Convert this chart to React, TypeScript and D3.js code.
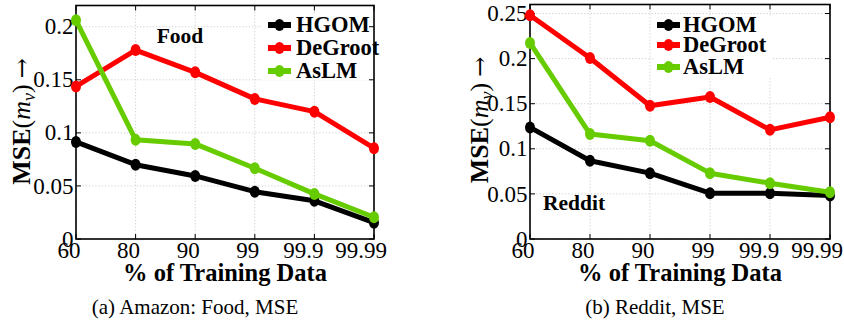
import React from "react";
import * as d3 from "d3";

const categories = ["60", "80", "90", "99", "99.9", "99.99"];
const seriesNames = ["HGOM", "DeGroot", "AsLM"];
const seriesColors = ["#000000", "#ff0000", "#66cc00"];

const foodHGOM = [0.0915, 0.07, 0.0594, 0.0446, 0.036, 0.0154];
const foodDeGroot = [0.1437, 0.178, 0.157, 0.132, 0.12, 0.0856];
const foodAsLM = [0.206, 0.0934, 0.0896, 0.0667, 0.0425, 0.0205];

const redditHGOM = [0.1237, 0.0867, 0.073, 0.0508, 0.0508, 0.0481];
const redditDeGroot = [0.248, 0.2007, 0.1478, 0.1574, 0.121, 0.135];
const redditAsLM = [0.2174, 0.1163, 0.109, 0.073, 0.0619, 0.0519];

const foodTicks = [0, 0.05, 0.1, 0.15, 0.2];
const redditTicks = [0, 0.05, 0.1, 0.15, 0.2, 0.25];

const SERIF = "Liberation Serif, DejaVu Serif, serif";

type PanelProps = {
  x0: number; x1: number; y0: number; y1: number;
  yMax: number; yTicks: number[];
  data: number[][];
  legend: { bx: number; by: number; bw: number; bh: number; lx0: number; lx1: number; tx: number; rows: number[] };
  note: { text: string; x: number; y: number; anchor: string };
  ylab: { x: number; y: number };
  caption: { text: string; x: number; y: number };
};

function Panel(p: PanelProps) {
  const x = d3.scalePoint<string>().domain(categories).range([p.x0, p.x1]);
  const y = d3.scaleLinear().domain([0, p.yMax]).range([p.y1, p.y0]);
  const line = d3
    .line<number>()
    .x((_, i) => x(categories[i]) as number)
    .y((d) => y(d));
  const tl = 5;
  const fmt = (v: number) => (v === 0 ? "0" : String(+v.toFixed(2)));
  return (
    <g>
      {categories.map((c) => (
        <line key={"gx" + c} x1={x(c)} x2={x(c)} y1={p.y0} y2={p.y1} stroke="#c8c8c8" strokeWidth={0.9} strokeDasharray="1.2,2" />
      ))}
      {p.yTicks.map((t) => (
        <line key={"gy" + t} x1={p.x0} x2={p.x1} y1={y(t)} y2={y(t)} stroke="#c8c8c8" strokeWidth={0.9} strokeDasharray="1.2,2" />
      ))}
      <rect x={p.legend.bx} y={p.legend.by} width={p.legend.bw} height={p.legend.bh} fill="#fff" />
      {categories.map((c) => (
        <g key={"tx" + c}>
          <line x1={x(c)} x2={x(c)} y1={p.y1} y2={p.y1 - tl} stroke="#000" strokeWidth={1} />
          <line x1={x(c)} x2={x(c)} y1={p.y0} y2={p.y0 + tl} stroke="#000" strokeWidth={1} />
          <text x={(x(c) as number) - (3 + 2 * c.length)} y={p.y1 + 19} textAnchor="middle" fontFamily={SERIF} fontSize={23} fill="#000">{c}</text>
        </g>
      ))}
      {p.yTicks.map((t) => (
        <g key={"ty" + t}>
          <line x1={p.x0} x2={p.x0 + tl} y1={y(t)} y2={y(t)} stroke="#000" strokeWidth={1} />
          <line x1={p.x1} x2={p.x1 - tl} y1={y(t)} y2={y(t)} stroke="#000" strokeWidth={1} />
          <text x={p.x0 - 2.5} y={y(t) + 7.6} textAnchor="end" fontFamily={SERIF} fontSize={23} fill="#000">{fmt(t)}</text>
        </g>
      ))}
      <rect x={p.x0} y={p.y0} width={p.x1 - p.x0} height={p.y1 - p.y0} fill="none" stroke="#000" strokeWidth={1.6} />
      {p.data.map((vals, si) => (
        <g key={"s" + si}>
          <path d={line(vals) || ""} fill="none" stroke={seriesColors[si]} strokeWidth={5} strokeLinejoin="round" />
          {vals.map((v, i) => (
            <ellipse key={i} cx={x(categories[i])} cy={y(v)} rx={5} ry={6} fill={seriesColors[si]} />
          ))}
        </g>
      ))}
      {seriesNames.map((n, si) => (
        <g key={"l" + n}>
          <line x1={p.legend.lx0} x2={p.legend.lx1} y1={p.legend.rows[si]} y2={p.legend.rows[si]} stroke={seriesColors[si]} strokeWidth={6} />
          <ellipse cx={(p.legend.lx0 + p.legend.lx1) / 2} cy={p.legend.rows[si]} rx={5} ry={6} fill={seriesColors[si]} />
          <text x={p.legend.tx} y={p.legend.rows[si] + 7} fontFamily={SERIF} fontWeight="bold" fontSize={22.5} fill="#000">{n}</text>
        </g>
      ))}
      <text x={p.note.x} y={p.note.y} textAnchor={p.note.anchor as any} fontFamily={SERIF} fontWeight="bold" fontSize={21.5} fill="#000">{p.note.text}</text>
      <text x={(p.x0 + p.x1) / 2} y={281} textAnchor="middle" fontFamily={SERIF} fontWeight="bold" fontSize={24.5} fill="#000">% of Training Data</text>
      <text transform={`translate(${p.ylab.x},${p.ylab.y}) rotate(-90)`} textAnchor="middle" fontFamily={SERIF} fontSize={26} fill="#000">
        <tspan fontWeight="bold">MSE</tspan>
        <tspan>(</tspan>
        <tspan fontStyle="italic">m</tspan>
        <tspan fontStyle="italic" fontSize={18} dy={5}>v</tspan>
        <tspan dy={-5}>)</tspan>
        <tspan dx={6} fontFamily="DejaVu Serif, serif" fontSize={24}>→</tspan>
      </text>
      <text x={p.caption.x} y={p.caption.y} textAnchor="middle" fontFamily={SERIF} fontSize={21} fill="#000">{p.caption.text}</text>
    </g>
  );
}

export default function App() {
  return (
    <div style={{ position: "absolute", left: 0, top: 0 }}>
      <svg width={844} height={322} viewBox="0 0 844 322" style={{ display: "block", background: "#fff" }}>
        <Panel
          x0={76} x1={374} y0={5.5} y1={239}
          yMax={0.22} yTicks={foodTicks}
          data={[foodHGOM, foodDeGroot, foodAsLM]}
          legend={{ bx: 262, by: 13, bw: 120, bh: 67, lx0: 268, lx1: 291, tx: 296, rows: [25, 48, 71] }}
          note={{ text: "Food", x: 180, y: 43, anchor: "middle" }}
          ylab={{ x: 30, y: 121.5 }}
          caption={{ text: "(a) Amazon: Food, MSE", x: 195, y: 314 }}
        />
        <Panel
          x0={530} x1={830} y0={4.5} y1={239}
          yMax={0.26} yTicks={redditTicks}
          data={[redditHGOM, redditDeGroot, redditAsLM]}
          legend={{ bx: 655, by: 16, bw: 116, bh: 61, lx0: 657, lx1: 680, tx: 683, rows: [25, 45, 67] }}
          note={{ text: "Reddit", x: 543, y: 210, anchor: "start" }}
          ylab={{ x: 488, y: 120 }}
          caption={{ text: "(b) Reddit, MSE", x: 655, y: 314 }}
        />
      </svg>
    </div>
  );
}
